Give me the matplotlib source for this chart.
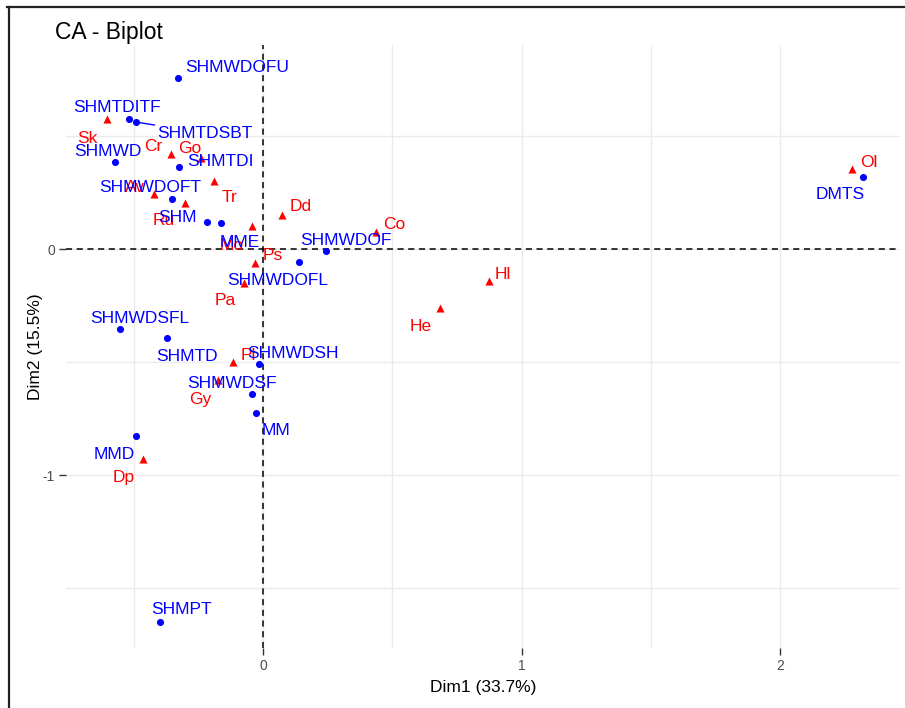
import matplotlib
matplotlib.use("Agg")
import matplotlib.pyplot as plt
from matplotlib.lines import Line2D

plt.rcParams['font.family'] = ['Liberation Sans', 'DejaVu Sans']

# Row coordinates (Dim1, Dim2)
row_names = ["SHMWDOFU", "SHMTDITF", "SHMTDSBT", "SHMWD", "SHMTDI", "SHMWDOFT",
             "SHM", "MME", "SHMWDOF", "SHMWDOFL", "SHMWDSFL", "SHMTD", "SHMWDSH",
             "SHMWDSF", "MM", "MMD", "SHMPT", "DMTS"]
row_dim1 = [-0.329, -0.518, -0.491, -0.573, -0.325, -0.352, -0.217, -0.162, 0.244,
            0.139, -0.553, -0.371, -0.015, -0.043, -0.027, -0.491, -0.398, 2.321]
row_dim2 = [0.757, 0.575, 0.562, 0.385, 0.363, 0.221, 0.119, 0.115, -0.009,
            -0.058, -0.354, -0.394, -0.509, -0.642, -0.726, -0.827, -1.650, 0.319]

# Column coordinates (Dim1, Dim2)
col_names = ["Sk", "Cr", "Go", "Tr", "Av", "Ru", "Dd", "Mo", "Co", "Ps", "Pa",
             "Hl", "He", "Pl", "Gy", "Dp", "Ol"]
col_dim1 = [-0.603, -0.356, -0.240, -0.190, -0.422, -0.302, 0.074, -0.043, 0.437,
            -0.031, -0.074, 0.874, 0.685, -0.116, -0.174, -0.464, 2.279]
col_dim2 = [0.575, 0.420, 0.403, 0.301, 0.243, 0.204, 0.150, 0.102, 0.075,
            -0.062, -0.150, -0.142, -0.261, -0.500, -0.580, -0.929, 0.354]

x_title = "Dim1 (33.7%)"
y_title = "Dim2 (15.5%)"
plot_title = "CA - Biplot"

# Repelled label offsets (pixels, label centre relative to its point)
row_offsets = {"SHMWDOFU": (59, 12), "SHMTDITF": (-12, 14), "SHMTDSBT": (69, -9),
               "SHMWD": (-7, 13), "SHMTDI": (41, 8), "SHMWDOFT": (-22, 14),
               "SHM": (-29, 7), "MME": (19, -17), "SHMWDOF": (20, 13),
               "SHMWDOFL": (-21, -16), "SHMWDSFL": (20, 13), "SHMTD": (20, -16),
               "SHMWDSH": (34, 13), "SHMWDSF": (-20, 13), "MM": (20, -15),
               "MMD": (-22, -16), "SHMPT": (21, 15), "DMTS": (-23, -16)}
col_offsets = {"Sk": (-20, -17), "Cr": (-18, 10), "Go": (-11, 12), "Tr": (16, -14),
               "Av": (-19, 9), "Ru": (-21, -16), "Dd": (19, 11), "Mo": (-20, -17),
               "Co": (18, 10), "Ps": (18, 10), "Pa": (-19, -16), "Hl": (14, 9),
               "He": (-19, -16), "Pl": (15, 9), "Gy": (-18, -17), "Dp": (-19, -16),
               "Ol": (17, 9)}
segment_labels = {"SHMTDSBT"}

W, H, DPI = 905, 708, 100
fig = plt.figure(figsize=(W / DPI, H / DPI), dpi=DPI)
ax = fig.add_axes([66 / W, 1 - 648 / H, (900 - 66) / W, (648 - 45) / H])

ax.set_xlim(-0.762, 2.464)
ax.set_ylim(-1.765, 0.903)

grid_col = "#EBEBEB"
for v in [-0.5, 0, 0.5, 1, 1.5, 2]:
    ax.axvline(v, color=grid_col, lw=1.0, zorder=0)
for v in [-1.5, -1, -0.5, 0, 0.5]:
    ax.axhline(v, color=grid_col, lw=1.0, zorder=0)

ax.axvline(0, color="black", lw=1.1, ls=(0, (4, 3)), zorder=1)
ax.axhline(0, color="black", lw=1.1, ls=(0, (4, 3)), zorder=1)

blue = "#0000FF"
red = "#FF0000"
ax.scatter(row_dim1, row_dim2, s=26, color=blue, marker="o", linewidths=0, zorder=3)
ax.scatter(col_dim1, col_dim2, s=34, color=red, marker="^", linewidths=0, zorder=3)

label_fs = 12.5
shift = -2  # baseline correction so capitals sit centred on the offset


def put_labels(names, xs, ys, offsets, color):
    for n, x, y in zip(names, xs, ys):
        dx, dy = offsets[n]
        kw = {}
        if n in segment_labels:
            kw["arrowprops"] = dict(arrowstyle="-", color=color, lw=1.0,
                                    shrinkA=0, shrinkB=0)
        ax.annotate(n, (x, y), xytext=(dx, dy + shift), textcoords="offset pixels",
                    ha="center", va="center", fontsize=label_fs, color=color,
                    zorder=4, **kw)


put_labels(col_names, col_dim1, col_dim2, col_offsets, red)
put_labels(row_names, row_dim1, row_dim2, row_offsets, blue)

ax.set_xticks([0, 1, 2])
ax.set_xticklabels(["0", "1", "2"])
ax.set_yticks([-1, 0])
ax.set_yticklabels(["-1", "0"])
ax.tick_params(axis="both", length=5, width=1.0, color="#333333",
               labelcolor="#4D4D4D", labelsize=10, pad=3)
for sp in ax.spines.values():
    sp.set_visible(False)
ax.set_facecolor("white")

ax.set_xlabel(x_title, fontsize=12.5, color="black", labelpad=5)
ax.set_ylabel(y_title, fontsize=12.5, color="black", labelpad=0)

fig.text(55 / W, 1 - 32 / H, plot_title, fontsize=16.5, ha="left", va="center",
         color="black")

# Outer frame (top and left edges)
fig.add_artist(Line2D([7 / W, 1], [1 - 7 / H, 1 - 7 / H], transform=fig.transFigure,
                      color="#222222", lw=1.6))
fig.add_artist(Line2D([9 / W, 9 / W], [0, 1 - 7 / H], transform=fig.transFigure,
                      color="#222222", lw=1.6))

fig.savefig("out.png", dpi=DPI)
